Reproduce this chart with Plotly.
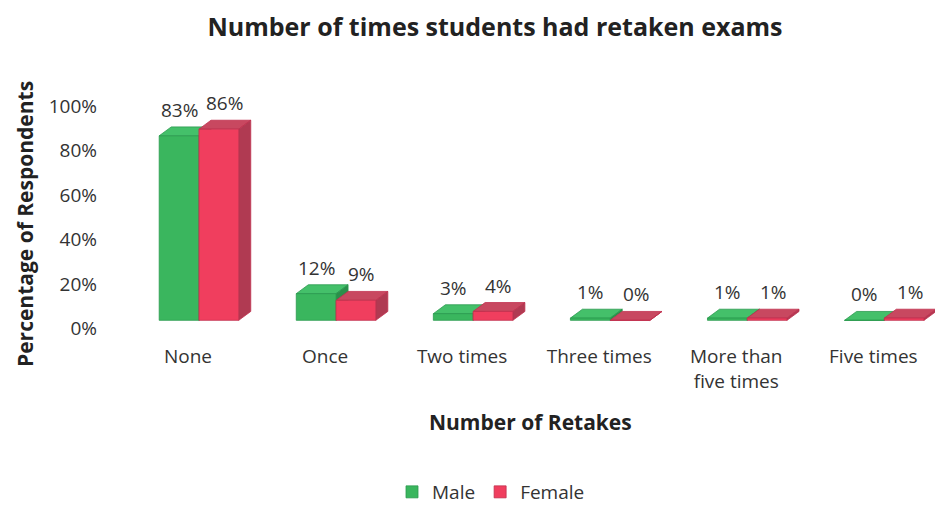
import plotly.graph_objects as go

# Survey results: share of respondents by number of exam retakes
categories = ["None", "Once", "Two times", "Three times", "More than<br>five times", "Five times"]
male = [83, 12, 3, 1, 1, 0]
female = [86, 9, 4, 0, 1, 1]
y_ticks = [0, 20, 40, 60, 80, 100]
y_tick_labels = ["0%", "20%", "40%", "60%", "80%", "100%"]

FONT = "Open Sans"
TXT = "#333333"

W, H = 935, 506
M_L, M_R, M_T, M_B = 140, 0, 98, 179
PLOT_W = W - M_L - M_R
PLOT_H = H - M_T - M_B


def px_to_paper(px, py):
    """Convert page pixel position into paper coordinates of the plot area."""
    return (px - M_L) / PLOT_W, (H - M_B - py) / PLOT_H


# Pseudo-3D column geometry (data units)
BAR_W = 0.29      # width of each front face
OFFSET = -0.21    # left edge of the male column relative to the category
DEPTH_X = 0.088   # horizontal depth of the top/side faces
DEPTH_Y = 4.0     # vertical depth of the top/side faces (percentage points)

series = [
    dict(name="Male", values=male, front="#3ab65e", top="#44c06a", side="#2a8f4a",
         edge="#2b9a4f", label_dx=0.0),
    dict(name="Female", values=female, front="#f03e5e", top="#c84860", side="#b03a52",
         edge="#c0304e", label_dx=DEPTH_X / 2),
]

fig = go.Figure()
shapes = []
annotations = []

for s_idx, s in enumerate(series):
    lefts = [i + OFFSET + s_idx * BAR_W for i in range(len(categories))]
    centers = [l + BAR_W / 2 for l in lefts]
    fig.add_trace(go.Bar(
        x=centers, y=s["values"], width=BAR_W, name=s["name"],
        marker=dict(color=s["front"], line=dict(color=s["edge"], width=0.8)),
        hoverinfo="skip",
    ))
    for xl, xc, v in zip(lefts, centers, s["values"]):
        xr = xl + BAR_W
        # top face
        shapes.append(dict(
            type="path", xref="x", yref="y", layer="below",
            path=f"M {xl},{v} L {xl + DEPTH_X},{v + DEPTH_Y} L {xr + DEPTH_X},{v + DEPTH_Y} L {xr},{v} Z",
            fillcolor=s["top"], line=dict(color=s["edge"], width=0.8),
        ))
        # side face
        shapes.append(dict(
            type="path", xref="x", yref="y", layer="below",
            path=f"M {xr},0 L {xr},{v} L {xr + DEPTH_X},{v + DEPTH_Y} L {xr + DEPTH_X},{DEPTH_Y} Z",
            fillcolor=s["side"], line=dict(color=s["edge"], width=0.8),
        ))
        annotations.append(dict(
            x=xc + s["label_dx"], y=v + DEPTH_Y, xref="x", yref="y",
            text=f"{v}%", showarrow=False, yanchor="middle", yshift=17,
            font=dict(family=FONT, size=19, color=TXT),
        ))

# axis titles
ax, ay = px_to_paper(530, 422)
annotations.append(dict(
    text="<b>Number of Retakes</b>", xref="paper", yref="paper",
    x=ax, y=ay, showarrow=False, xanchor="center", yanchor="middle",
    font=dict(family=FONT, size=21, color="#222222"),
))
ax, ay = px_to_paper(25, 224)
annotations.append(dict(
    text="<b>Percentage of Respondents</b>", xref="paper", yref="paper",
    x=ax, y=ay, showarrow=False, textangle=-90,
    xanchor="center", yanchor="middle",
    font=dict(family=FONT, size=21, color="#222222"),
))

fig.update_layout(
    width=W, height=H,
    margin=dict(l=M_L, r=M_R, t=M_T, b=M_B),
    paper_bgcolor="white", plot_bgcolor="rgba(0,0,0,0)",
    barmode="overlay",
    title=dict(text="<b>Number of times students had retaken exams</b>",
               xref="container", yref="container", x=495 / W, y=1 - 27 / H,
               xanchor="center", yanchor="middle",
               font=dict(family=FONT, size=25, color="#222222")),
    xaxis=dict(range=[-0.35, 5.45], tickvals=list(range(len(categories))),
               ticktext=categories, showgrid=False, zeroline=False, showline=False,
               ticks="", ticklabelstandoff=16,
               tickfont=dict(family=FONT, size=19, color=TXT)),
    yaxis=dict(range=[-3, 100], tickvals=y_ticks, ticktext=y_tick_labels,
               showgrid=False, zeroline=False, showline=False, ticks="",
               ticklabelstandoff=42, ticklabelshift=8,
               tickfont=dict(family=FONT, size=19, color=TXT)),
    legend=dict(orientation="h", xref="container", yref="container",
                x=491 / W, y=1 - 492 / H, xanchor="center", yanchor="middle",
                itemwidth=30, font=dict(family=FONT, size=19, color=TXT)),
    shapes=shapes,
    annotations=annotations,
    showlegend=True,
)

fig.write_html("out.html")
